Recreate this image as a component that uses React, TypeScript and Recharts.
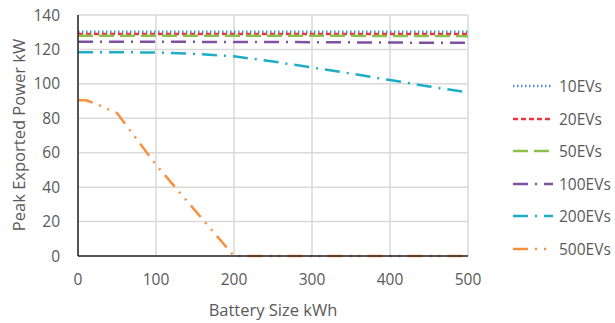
import React from 'react';
import { LineChart, Line, XAxis, YAxis, CartesianGrid, Legend, Label } from 'recharts';

const batterySizes = [0, 10, 20, 50, 100, 150, 200, 250, 300, 350, 400, 450, 500];
const ev10 = [130.3, 130.3, 130.3, 130.3, 130.3, 130.3, 130.3, 130.3, 130.3, 130.3, 130.3, 130.3, 130.3];
const ev20 = [129, 129, 129, 129, 129, 129, 129, 129, 129, 129, 129, 129, 129];
const ev50 = [128, 128, 128, 128, 128, 128, 128, 128, 128, 127.9, 127.8, 127.8, 127.7];
const ev100 = [124.4, 124.4, 124.4, 124.4, 124.4, 124.4, 124.3, 124.3, 124.2, 124.1, 124, 123.9, 123.9];
const ev200 = [118.4, 118.4, 118.4, 118.4, 118.2, 117.4, 116, 113, 109.5, 106, 102.2, 98.5, 95];
const ev500 = [90.5, 90.5, 89, 83, 53, 26.5, 0, 0, 0, 0, 0, 0, 0];

const xTicks = [0, 100, 200, 300, 400, 500];
const yTicks = [0, 20, 40, 60, 80, 100, 120, 140];

const seriesDefs = [
  { key: 'ev10', name: '10EVs', values: ev10, color: '#4F8FD6', dash: '1.5 2.5' },
  { key: 'ev20', name: '20EVs', values: ev20, color: '#E8383D', dash: '5 3' },
  { key: 'ev50', name: '50EVs', values: ev50, color: '#8DC04A', dash: '15 6' },
  { key: 'ev100', name: '100EVs', values: ev100, color: '#7E52A0', dash: '15 7 2 7' },
  { key: 'ev200', name: '200EVs', values: ev200, color: '#1FADC5', dash: '15 7 2 7' },
  { key: 'ev500', name: '500EVs', values: ev500, color: '#F7913D', dash: '15 7 2 7 2 7' },
];

const data = batterySizes.map((x, i) => {
  const row: any = { x };
  seriesDefs.forEach((s) => (row[s.key] = s.values[i]));
  return row;
});

const FONT = '"Open Sans", sans-serif';
const TEXT = '#595959';

const LegendContent = () => (
  <div style={{ fontFamily: FONT, color: TEXT, fontSize: 15.5 }}>
    {seriesDefs.map((s) => (
      <div key={s.key} style={{ height: 32.5, display: 'flex', alignItems: 'center' }}>
        <svg width={40} height={6} style={{ marginRight: 6 }}>
          <line x1={0} y1={3} x2={40} y2={3} stroke={s.color} strokeWidth={2.5} strokeDasharray={s.dash} />
        </svg>
        <span>{s.name}</span>
      </div>
    ))}
  </div>
);

const YTitle = () => (
  <text
    x={18}
    y={135}
    transform="rotate(-90 18 135)"
    textAnchor="middle"
    dominantBaseline="central"
    fill={TEXT}
    fontSize={16.5}
    fontFamily={FONT}
  >
    Peak Exported Power kW
  </text>
);

export default function App() {
  return (
    <div style={{ position: 'absolute', left: 0, top: 0, width: 615, height: 323, background: '#fff' }}>
      <LineChart width={615} height={323} data={data} margin={{ top: 15, right: 47, bottom: 0, left: 0 }}>
        <CartesianGrid stroke="#D9D9D9" strokeWidth={1.5} horizontal vertical />
        <XAxis
          dataKey="x"
          type="number"
          domain={[0, 500]}
          ticks={xTicks}
          height={67}
          tickLine={false}
          tickMargin={12}
          axisLine={{ stroke: '#262626', strokeWidth: 1.5 }}
          tick={{ fill: TEXT, fontSize: 15.5, fontFamily: FONT }}
        >
          <Label
            value="Battery Size kWh"
            position="insideBottom"
            offset={7}
            style={{ fill: TEXT, fontSize: 16.5, fontFamily: FONT }}
          />
        </XAxis>
        <YAxis
          width={78}
          type="number"
          domain={[0, 140]}
          ticks={yTicks}
          tickLine={false}
          tickMargin={12}
          axisLine={{ stroke: '#262626', strokeWidth: 1.5 }}
          tick={{ fill: TEXT, fontSize: 15.5, fontFamily: FONT }}
        >
          <Label content={<YTitle />} />
        </YAxis>
        <Legend
          layout="vertical"
          verticalAlign="top"
          align="right"
          content={<LegendContent />}
          wrapperStyle={{ position: 'absolute', left: 513, top: 70, width: 100 }}
        />
        {seriesDefs.map((s) => (
          <Line
            key={s.key}
            dataKey={s.key}
            name={s.name}
            stroke={s.color}
            strokeWidth={2.5}
            strokeDasharray={s.dash}
            dot={false}
            activeDot={false}
            isAnimationActive={false}
            type="linear"
          />
        ))}
      </LineChart>
    </div>
  );
}
